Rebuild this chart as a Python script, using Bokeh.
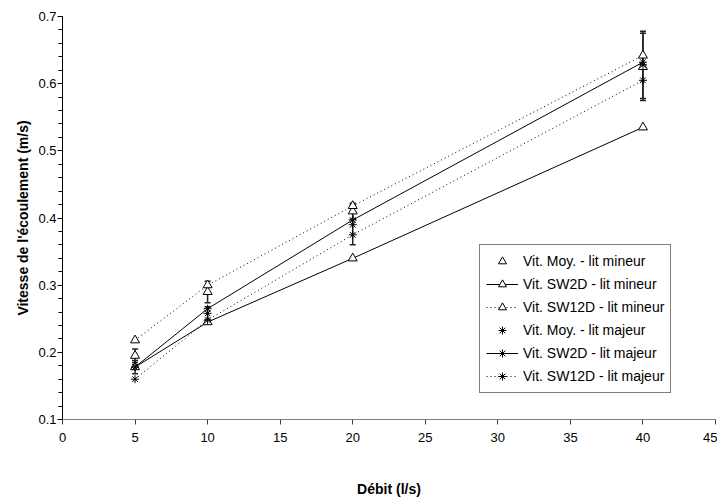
from bokeh.plotting import figure
from bokeh.models import (ColumnDataSource, Whisker, TeeHead, Legend, LegendItem,
                          Range1d, FixedTicker, NumeralTickFormatter)
from bokeh.embed import file_html
from bokeh.resources import INLINE

debit = [5, 10, 20, 40]
moy_mineur = [0.195, 0.29, 0.41, 0.625]
moy_mineur_err = [0.01, 0.016, 0.012, 0.05]
sw2d_mineur = [0.178, 0.245, 0.34, 0.535]
sw12d_mineur = [0.218, 0.30, 0.418, 0.642]
moy_majeur = [0.178, 0.258, 0.39, 0.628]
moy_majeur_err = [0.01, 0.01, 0.03, 0.05]
sw2d_majeur = [0.178, 0.265, 0.397, 0.632]
sw12d_majeur = [0.16, 0.248, 0.375, 0.605]

labels = ["Vit. Moy. - lit mineur", "Vit. SW2D - lit mineur", "Vit. SW12D - lit mineur",
          "Vit. Moy. - lit majeur", "Vit. SW2D - lit majeur", "Vit. SW12D - lit majeur"]
x_ticks = [0, 5, 10, 15, 20, 25, 30, 35, 40, 45]
y_ticks = [0.1, 0.2, 0.3, 0.4, 0.5, 0.6, 0.7]

FONT = "Liberation Sans"

p = figure(width=717, height=499, output_backend="svg", toolbar_location=None,
           x_range=Range1d(0, 45), y_range=Range1d(0.1, 0.7),
           min_border_left=62, min_border_right=2, min_border_top=16, min_border_bottom=80)
p.outline_line_color = None
p.grid.visible = False
p.background_fill_color = "white"
p.border_fill_color = "white"

# axes
p.xaxis.ticker = FixedTicker(ticks=x_ticks)
p.yaxis.ticker = FixedTicker(ticks=y_ticks, minor_ticks=[round(0.1 + 0.02 * i, 2) for i in range(31)])
p.yaxis.formatter = NumeralTickFormatter(format="0.0")
for ax in (p.xaxis[0], p.yaxis[0]):
    ax.major_label_text_font = FONT
    ax.major_label_text_font_size = "13px"
    ax.major_label_text_color = "black"
    ax.axis_label_text_font = FONT
    ax.axis_label_text_font_size = "14px"
    ax.axis_label_text_font_style = "bold"
    ax.axis_label_text_color = "black"
    ax.major_tick_in = 0
    ax.major_tick_out = 5
    ax.minor_tick_in = 0
    ax.minor_tick_out = 4
p.xaxis.minor_tick_line_color = None
p.xaxis.axis_line_color = "#808080"
p.xaxis.major_tick_line_color = "#404040"
p.yaxis.axis_line_color = "black"
p.xaxis.axis_label = "Débit (l/s)"
p.yaxis.axis_label = "Vitesse de l'écoulement (m/s)"
p.xaxis.major_label_standoff = 8
p.xaxis.axis_label_standoff = 36
p.yaxis.major_label_standoff = 1
p.yaxis.axis_label_standoff = 4

# error bars
src_mi = ColumnDataSource(dict(x=debit, y=moy_mineur,
                               lo=[v - e for v, e in zip(moy_mineur, moy_mineur_err)],
                               hi=[v + e for v, e in zip(moy_mineur, moy_mineur_err)]))
src_ma = ColumnDataSource(dict(x=debit, y=moy_majeur,
                               lo=[v - e for v, e in zip(moy_majeur, moy_majeur_err)],
                               hi=[v + e for v, e in zip(moy_majeur, moy_majeur_err)]))
for s in (src_mi, src_ma):
    w = Whisker(base="x", lower="lo", upper="hi", source=s, line_color="#222222", line_width=1.5,
                upper_head=TeeHead(size=6, line_color="#222222", line_width=1.5),
                lower_head=TeeHead(size=6, line_color="#222222", line_width=1.5))
    p.add_layout(w)

tri = dict(marker="triangle", size=9, fill_color="white", line_color="black", line_width=1)
ast = dict(marker="asterisk", size=8, line_color="black", line_width=1)

items = []
r1 = p.scatter(debit, moy_mineur, **tri)
items.append(LegendItem(label=labels[0], renderers=[r1]))
l2 = p.line(debit, sw2d_mineur, line_color="black", line_width=1)
r2 = p.scatter(debit, sw2d_mineur, **tri)
items.append(LegendItem(label=labels[1], renderers=[l2, r2]))
l3 = p.line(debit, sw12d_mineur, line_color="black", line_width=1, line_dash="1 3")
r3 = p.scatter(debit, sw12d_mineur, **tri)
items.append(LegendItem(label=labels[2], renderers=[l3, r3]))
r4 = p.scatter(debit, moy_majeur, **ast)
items.append(LegendItem(label=labels[3], renderers=[r4]))
l5 = p.line(debit, sw2d_majeur, line_color="black", line_width=1)
r5 = p.scatter(debit, sw2d_majeur, **ast)
items.append(LegendItem(label=labels[4], renderers=[l5, r5]))
l6 = p.line(debit, sw12d_majeur, line_color="black", line_width=1, line_dash="1 3")
r6 = p.scatter(debit, sw12d_majeur, **ast)
items.append(LegendItem(label=labels[5], renderers=[l6, r6]))

legend = Legend(items=items, location=(417, 26), label_text_font=FONT,
                label_text_font_size="14px", label_text_color="black",
                border_line_color="black", border_line_width=1,
                background_fill_color="white", background_fill_alpha=1,
                glyph_width=32, glyph_height=20, label_standoff=5,
                spacing=3, padding=6, margin=0, label_height=20)
p.add_layout(legend, "center")

open("out.html", "w").write(file_html(p, INLINE))
